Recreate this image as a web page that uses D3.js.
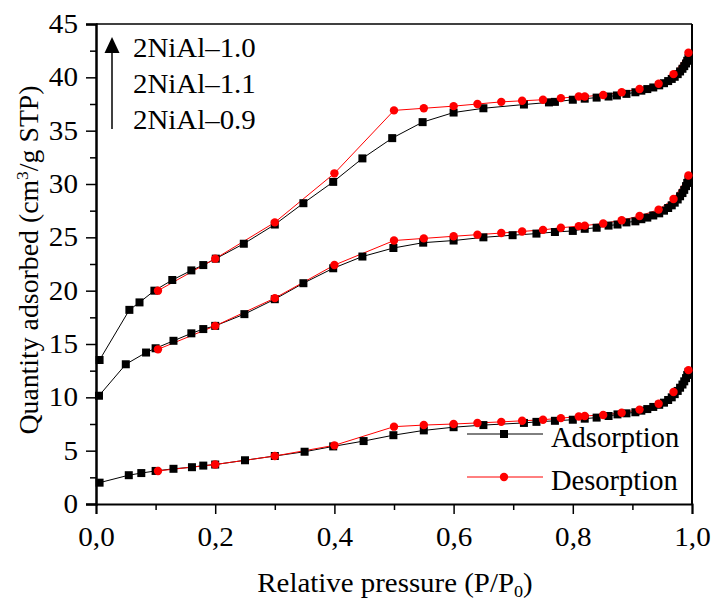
<!DOCTYPE html>
<html>
<head>
<meta charset="utf-8">
<script src="https://cdn.jsdelivr.net/npm/d3@7/dist/d3.min.js"></script>
<style>
  html, body { margin: 0; padding: 0; background: #fff; }
  svg { display: block; }
  svg text { font-family: "Liberation Serif", "Times New Roman", serif; fill: #000; }
</style>
</head>
<body>
<div id="chart"></div>
<script>
// ---------------- data ----------------
const clusterP = [0.915,0.925,0.935,0.945,0.953,0.96,0.966,0.971,0.976,0.98,0.984,0.987,0.99,0.992,0.994];

const adsP_10 = [0.006,0.056,0.073,0.098,0.128,0.16,0.18,0.201,0.248,0.3,0.348,0.398,0.447,0.497,0.548,0.6,0.65,0.718,0.76,0.77,0.8,0.82,0.84,0.86,0.874,0.89,0.905].concat(clusterP);
const adsV_10 = [13.5,18.2,18.9,20.0,21.0,21.9,22.4,23.0,24.4,26.2,28.2,30.2,32.4,34.3,35.8,36.7,37.1,37.45,37.65,37.7,37.9,38.0,38.1,38.2,38.3,38.45,38.6,
                 38.75,38.9,39.05,39.25,39.45,39.65,39.85,40.05,40.3,40.55,40.8,41.05,41.3,41.55,41.8];

const adsP_11 = [0.005,0.05,0.084,0.1,0.13,0.16,0.18,0.2,0.249,0.3,0.348,0.398,0.447,0.499,0.549,0.6,0.65,0.699,0.739,0.77,0.8,0.82,0.84,0.86,0.875,0.89,0.905].concat(clusterP);
const adsV_11 = [10.15,13.1,14.2,14.6,15.3,16.0,16.4,16.7,17.8,19.2,20.7,22.1,23.2,24.0,24.5,24.7,25.0,25.2,25.35,25.5,25.6,25.8,25.9,26.1,26.2,26.4,26.5,
                 26.7,26.85,27.05,27.25,27.5,27.75,28.0,28.25,28.55,28.85,29.15,29.45,29.8,30.1,30.4];

const adsP_09 = [0.006,0.055,0.076,0.1,0.13,0.161,0.18,0.2,0.25,0.3,0.35,0.398,0.449,0.499,0.55,0.6,0.65,0.718,0.739,0.77,0.8,0.82,0.84,0.86,0.875,0.89,0.905].concat(clusterP);
const adsV_09 = [2.0,2.7,2.9,3.1,3.3,3.45,3.6,3.7,4.1,4.5,4.9,5.4,5.9,6.45,6.9,7.2,7.4,7.6,7.7,7.8,7.9,8.0,8.1,8.25,8.4,8.5,8.6,
                 8.75,8.9,9.1,9.3,9.5,9.75,10.0,10.3,10.6,10.9,11.2,11.5,11.8,12.1,12.35];

const desP = [0.104,0.2,0.3,0.4,0.5,0.55,0.6,0.64,0.68,0.715,0.75,0.78,0.81,0.82,0.851,0.882,0.912,0.944,0.969,0.994];
const desV_10 = [20.0,23.0,26.4,31.0,36.9,37.1,37.3,37.5,37.7,37.8,37.9,38.05,38.2,38.2,38.35,38.6,38.9,39.4,40.3,42.3];
const desV_11 = [14.5,16.7,19.3,22.4,24.7,24.9,25.1,25.25,25.4,25.55,25.7,25.9,26.05,26.1,26.3,26.6,27.0,27.6,28.6,30.8];
const desV_09 = [3.1,3.7,4.5,5.5,7.25,7.4,7.5,7.6,7.7,7.8,7.9,8.05,8.2,8.25,8.35,8.55,8.85,9.4,10.5,12.55];

const sampleNames = ["2NiAl\u20131.0","2NiAl\u20131.1","2NiAl\u20130.9"];
const seriesNames = ["Adsorption","Desorption"];
const xTicks = [0,0.2,0.4,0.6,0.8,1.0];
const yTicks = [0,5,10,15,20,25,30,35,40,45];

// ---------------- chart ----------------
const FONT = '"Liberation Serif", "Times New Roman", serif';
const W = 713, H = 600;
const svg = d3.select("#chart").append("svg").attr("width", W).attr("height", H)
  .style("font-family", FONT);

const x = d3.scaleLinear().domain([0, 1]).range([96, 692]);
const y = d3.scaleLinear().domain([0, 45]).range([504, 24]);

// horizontal stretch helper (reference glyphs are slightly wider than Times metrics)
function stretch(sel, k) {
  sel.each(function() {
    const w = this.getComputedTextLength();
    d3.select(this).attr("textLength", w * k).attr("lengthAdjust", "spacingAndGlyphs");
  });
}

const zip = (ps, vs) => ps.map((p, i) => [p, vs[i]]);
const adsSets = [zip(adsP_10, adsV_10), zip(adsP_11, adsV_11), zip(adsP_09, adsV_09)];
const desSets = [zip(desP, desV_10), zip(desP, desV_11), zip(desP, desV_09)];

const line = d3.line().x(d => x(d[0])).y(d => y(d[1]));

// frame (top & right)
svg.append("line").attr("x1", x(0)).attr("x2", x(1)).attr("y1", y(45)).attr("y2", y(45))
  .attr("stroke", "#000").attr("stroke-width", 1.5);
svg.append("line").attr("x1", x(1)).attr("x2", x(1)).attr("y1", y(45)).attr("y2", y(0))
  .attr("stroke", "#000").attr("stroke-width", 2);

// series
const gData = svg.append("g");
adsSets.forEach(s => {
  gData.append("path").datum(s).attr("d", line).attr("fill", "none").attr("stroke", "#000").attr("stroke-width", 1);
});
desSets.forEach(s => {
  gData.append("path").datum(s).attr("d", line).attr("fill", "none").attr("stroke", "#ff0000").attr("stroke-width", 1);
});
const sq = 8;
adsSets.forEach(s => {
  gData.append("g").selectAll("rect").data(s).join("rect")
    .attr("x", d => x(d[0]) - sq/2).attr("y", d => y(d[1]) - sq/2)
    .attr("width", sq).attr("height", sq).attr("fill", "#000");
});
desSets.forEach(s => {
  gData.append("g").selectAll("circle").data(s).join("circle")
    .attr("cx", d => x(d[0])).attr("cy", d => y(d[1])).attr("r", 4.2).attr("fill", "#ff0000");
});

// axes
const fmt = d => d3.format(".1f")(d).replace(".", ",");
const xAxis = d3.axisBottom(x).tickValues(xTicks).tickFormat(fmt).tickSize(10).tickPadding(13);
const gx = svg.append("g").attr("transform", `translate(0,${y(0)})`).call(xAxis);
gx.attr("font-family", null);
gx.select(".domain").attr("stroke-width", 2);
gx.selectAll(".tick line").attr("stroke-width", 1.5);
gx.selectAll("text").attr("font-size", 26.5).call(stretch, 1.1);
const xMinor = d3.axisBottom(x).tickValues([0.1,0.3,0.5,0.7,0.9]).tickFormat("").tickSize(6);
const gxm = svg.append("g").attr("transform", `translate(0,${y(0)})`).call(xMinor);
gxm.select(".domain").remove();
gxm.selectAll(".tick line").attr("stroke-width", 1.5);

const yAxis = d3.axisLeft(y).tickValues(yTicks).tickSize(10).tickPadding(8);
const gy = svg.append("g").attr("transform", `translate(${x(0)},0)`).call(yAxis);
gy.attr("font-family", null);
gy.select(".domain").attr("stroke-width", 2.5);
gy.selectAll(".tick line").attr("stroke-width", 1.5);
gy.selectAll("text").attr("font-size", 26.5).call(stretch, 1.1);
const yMinor = d3.axisLeft(y).tickValues([2.5,7.5,12.5,17.5,22.5,27.5,32.5,37.5,42.5]).tickFormat("").tickSize(6);
const gym = svg.append("g").attr("transform", `translate(${x(0)},0)`).call(yMinor);
gym.select(".domain").remove();
gym.selectAll(".tick line").attr("stroke-width", 1.5);

// axis titles
const xt = svg.append("g").attr("transform", "translate(395,592) scale(1.07,1)")
  .append("text").attr("x", 0).attr("y", 0).attr("text-anchor", "middle").attr("font-size", 27);
xt.append("tspan").text("Relative pressure (P/P");
xt.append("tspan").attr("font-size", 17).attr("dy", 5).text("0");
xt.append("tspan").attr("dy", -5).text(")");

const yt = svg.append("g").attr("transform", "translate(38,260) rotate(-90) scale(1.03,1)")
  .append("text").attr("x", 0).attr("y", 0).attr("text-anchor", "middle").attr("font-size", 27);
yt.append("tspan").text("Quantity adsorbed (cm");
yt.append("tspan").attr("font-size", 17).attr("dy", -10).text("3");
yt.append("tspan").attr("dy", 10).text("/g STP)");

// sample legend with arrow
svg.append("line").attr("x1", 112).attr("x2", 112).attr("y1", 129).attr("y2", 50)
  .attr("stroke", "#000").attr("stroke-width", 1.5);
svg.append("path").attr("d", "M112,37 L104.5,53 L119.5,53 Z").attr("fill", "#000");
const sampleTexts = svg.append("g").selectAll("text").data(sampleNames).join("text")
  .attr("x", 133).attr("y", (d, i) => 57 + i * 35.8).attr("font-size", 27).text(d => d);
sampleTexts.call(stretch, 1.07);

// series legend
const legY = [434, 477];
const legColors = ["#000", "#ff0000"];
seriesNames.forEach((n, i) => {
  svg.append("line").attr("x1", 467).attr("x2", 543).attr("y1", legY[i]).attr("y2", legY[i])
    .attr("stroke", legColors[i]).attr("stroke-width", 1);
  if (i === 0) {
    svg.append("rect").attr("x", 504 - sq/2).attr("y", legY[i] - sq/2).attr("width", sq).attr("height", sq).attr("fill", "#000");
  } else {
    svg.append("circle").attr("cx", 504).attr("cy", legY[i]).attr("r", 4.2).attr("fill", "#ff0000");
  }
  svg.append("text").attr("x", 551).attr("y", legY[i] + 13).attr("font-size", 28.5).text(n);
});
</script>
</body>
</html>
